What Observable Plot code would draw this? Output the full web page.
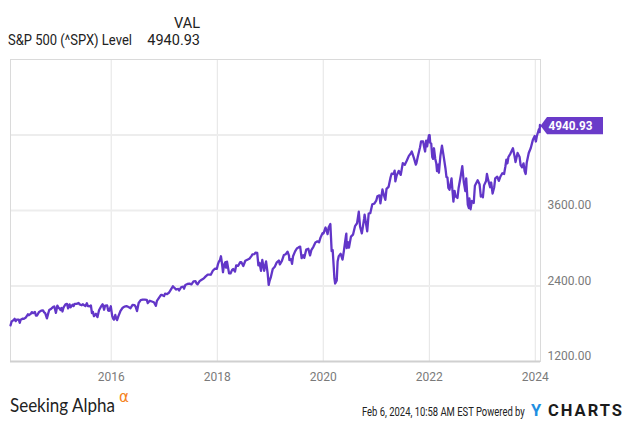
<!DOCTYPE html>
<html><head><meta charset="utf-8">
<script src="https://cdn.jsdelivr.net/npm/d3@7"></script>
<script src="https://cdn.jsdelivr.net/npm/@observablehq/plot@0.6"></script>
<style>body{margin:0;background:#fff;font-family:Roboto,sans-serif}</style>
</head><body><div id="chart"></div>
<script>
// S&P 500 level readings, [month-day, level]
const spx2014 = [["02-06",1773],["02-14",1838],["02-28",1859],["03-07",1878],["03-14",1841],["03-21",1866],["04-04",1865],["04-11",1815],["04-17",1864],["05-02",1881],["05-09",1878],["05-23",1900],["06-06",1950],["06-13",1936],["06-27",1961],["07-03",1985],["07-11",1968],["07-24",1988],["07-31",1931],["08-08",1931],["08-22",1988],["09-05",2007],["09-18",2011],["09-26",1982],["10-03",1968],["10-15",1886],["10-24",1965],["10-31",2018],["11-14",2039],["11-28",2068],["12-05",2075],["12-16",1973],["12-26",2089]];
const spx2015 = [["01-02",2058],["01-09",2044],["01-16",2019],["01-23",2051],["01-30",1995],["02-06",2055],["02-20",2110],["03-02",2117],["03-10",2044],["03-20",2108],["03-27",2061],["04-10",2102],["04-17",2081],["04-24",2117],["05-08",2116],["05-21",2131],["05-29",2107],["06-12",2094],["06-19",2110],["07-07",2081],["07-17",2126],["07-24",2079],["08-07",2078],["08-14",2091],["08-21",1971],["08-28",1988],["09-04",1921],["09-18",1958],["09-28",1905],["10-09",2014],["10-23",2075],["11-03",2109],["11-13",2023],["11-20",2089],["12-04",2091],["12-11",2012],["12-18",2005],["12-29",2078]];
const spx2016 = [["01-08",1922],["01-15",1880],["01-20",1865],["01-29",1940],["02-05",1880],["02-11",1860],["02-19",1918],["03-04",1999],["03-18",2050],["04-01",2073],["04-15",2081],["04-29",2065],["05-13",2047],["05-27",2099],["06-10",2096],["06-17",2071],["06-27",2001],["07-08",2130],["07-22",2175],["08-05",2183],["08-19",2184],["09-02",2180],["09-09",2128],["09-23",2165],["10-07",2153],["10-21",2141],["11-04",2085],["11-11",2164],["11-25",2213],["12-09",2260],["12-16",2258],["12-30",2239]];
const spx2017 = [["01-06",2277],["01-20",2271],["02-03",2297],["02-17",2351],["03-01",2396],["03-10",2373],["03-24",2344],["04-07",2355],["04-13",2329],["04-28",2384],["05-12",2391],["05-17",2357],["05-26",2416],["06-09",2432],["06-23",2438],["07-07",2425],["07-21",2473],["08-04",2477],["08-11",2441],["08-18",2426],["09-01",2477],["09-15",2500],["09-29",2519],["10-13",2553],["10-27",2581],["11-10",2582],["11-17",2579],["12-01",2642],["12-15",2675],["12-29",2674]];
const spx2018 = [["01-05",2743],["01-12",2786],["01-19",2810],["01-26",2873],["02-02",2762],["02-09",2619],["02-16",2732],["02-26",2780],["03-02",2691],["03-09",2786],["03-23",2600],["04-02",2600],["04-13",2656],["04-20",2670],["05-03",2630],["05-11",2727],["05-25",2721],["06-08",2779],["06-15",2780],["06-29",2718],["07-13",2801],["07-27",2818],["08-10",2833],["08-24",2875],["08-31",2902],["09-14",2905],["09-21",2930],["10-03",2925],["10-11",2728],["10-19",2767],["10-29",2641],["11-07",2814],["11-20",2641],["11-30",2760],["12-03",2790],["12-14",2600],["12-21",2417],["12-28",2486]];
const spx2019 = [["01-04",2532],["01-18",2671],["02-01",2707],["02-15",2776],["03-01",2804],["03-08",2743],["03-22",2800],["04-05",2893],["04-18",2905],["04-30",2946],["05-10",2881],["05-13",2812],["05-24",2826],["05-31",2752],["06-07",2874],["06-21",2950],["07-03",2996],["07-15",3014],["07-26",3026],["08-05",2844],["08-16",2889],["08-23",2847],["09-06",2979],["09-20",2992],["10-02",2887],["10-11",2970],["10-25",3023],["11-08",3093],["11-22",3110],["12-03",3093],["12-13",3169],["12-27",3240]];
const spx2020 = [["01-03",3235],["01-17",3330],["01-31",3225],["02-07",3328],["02-19",3386],["02-28",2954],["03-06",2972],["03-13",2711],["03-18",2520],["03-23",2440],["04-03",2489],["04-09",2790],["04-17",2875],["04-30",2912],["05-13",2820],["05-22",2955],["06-05",3194],["06-08",3232],["06-11",3002],["06-19",3098],["06-26",3009],["07-10",3185],["07-24",3216],["08-07",3351],["08-21",3397],["09-02",3580],["09-11",3341],["09-23",3237],["10-09",3477],["10-12",3534],["10-30",3270],["11-09",3550],["11-20",3558],["12-04",3699],["12-18",3709],["12-31",3756]];
const spx2021 = [["01-08",3825],["01-22",3841],["01-29",3714],["02-12",3934],["02-26",3811],["03-04",3768],["03-12",3943],["03-26",3975],["04-09",4129],["04-16",4185],["04-30",4181],["05-07",4233],["05-12",4063],["05-21",4156],["06-04",4230],["06-18",4166],["07-02",4352],["07-16",4327],["07-30",4395],["08-13",4468],["08-27",4509],["09-02",4537],["09-17",4433],["09-30",4330],["10-04",4350],["10-15",4471],["10-29",4605],["11-05",4697],["11-19",4698],["11-30",4567],["12-03",4538],["12-10",4712],["12-17",4621],["12-29",4793]];
const spx2022 = [["01-03",4797],["01-07",4677],["01-14",4663],["01-21",4450],["01-27",4420],["02-02",4589],["02-11",4419],["02-18",4349],["02-23",4225],["03-04",4329],["03-08",4200],["03-18",4463],["03-29",4631],["04-08",4488],["04-22",4272],["04-29",4132],["05-06",4123],["05-12",3960],["05-20",3930],["06-03",4109],["06-10",3901],["06-16",3740],["06-24",3912],["07-01",3825],["07-14",3800],["07-22",3962],["08-05",4145],["08-16",4305],["08-26",4058],["09-06",3909],["09-12",4110],["09-23",3693],["09-30",3640],["10-04",3791],["10-12",3620],["10-21",3752],["11-03",3719],["11-11",3993],["11-30",4080],["12-13",4019],["12-22",3822],["12-30",3840]];
const spx2023 = [["01-05",3808],["01-13",3999],["01-27",4070],["02-02",4180],["02-10",4090],["02-24",3970],["03-03",4045],["03-13",3870],["03-24",3971],["03-31",4109],["04-14",4137],["04-25",4071],["05-05",4136],["05-19",4192],["05-31",4180],["06-09",4299],["06-16",4410],["06-23",4348],["06-30",4450],["07-14",4505],["07-31",4589],["08-11",4464],["08-18",4370],["09-01",4515],["09-15",4450],["09-22",4320],["10-02",4288],["10-12",4349],["10-20",4224],["10-27",4180],["11-03",4358],["11-17",4514],["12-01",4594],["12-15",4719],["12-28",4783]];
const spx2024 = [["01-05",4697],["01-12",4784],["01-19",4840],["01-26",4891],["01-31",4846],["02-02",4959],["02-06",4940.93]];

const seriesByYear = {2014: spx2014, 2015: spx2015, 2016: spx2016, 2017: spx2017, 2018: spx2018, 2019: spx2019, 2020: spx2020, 2021: spx2021, 2022: spx2022, 2023: spx2023, 2024: spx2024};
const xTickYears = [2016, 2018, 2020, 2022, 2024];
const yTickLabels = [1200, 2400, 3600];
const yGridLevels = [2400, 3600, 4800];
const yDomain = [1200, 6000];
const startDate = "2014-02-06";
const endDate = "2024-02-06";
const lastValue = 4940.93;
const seriesName = "S&P 500 (^SPX) Level";
const columnHeader = "VAL";
const stampText = "Feb 6, 2024, 10:58 AM EST Powered by";

const data = Object.entries(seriesByYear).flatMap(([yr, arr]) =>
  arr.map(([md, v]) => ({date: new Date(`${yr}-${md}T00:00:00Z`), value: v})));
const xTicks = xTickYears.map(y => new Date(Date.UTC(y, 0, 1)));

const chart = Plot.plot({
  width: 635, height: 424,
  marginLeft: 10, marginRight: 95, marginTop: 59, marginBottom: 63,
  style: {fontFamily: "Roboto, sans-serif", fontSize: "12px", background: "#fff", overflow: "visible"},
  x: {type: "utc", domain: [new Date(startDate), new Date(endDate)], label: null},
  y: {domain: yDomain, label: null},
  marks: [
    Plot.ruleX(xTicks, {stroke: "#e4e4e4", strokeWidth: 1}),
    Plot.ruleY(yGridLevels, {stroke: "#ededed", strokeWidth: 2}),
    Plot.frame({stroke: "#dadada", strokeWidth: 1}),
    Plot.ruleY([yDomain[0]], {stroke: "#d0d0d0", strokeWidth: 2}),
    Plot.axisX(xTicks, {tickSize: 0, tickPadding: 11, tickFormat: d3.utcFormat("%Y"), fill: "#7a7a7a", fontSize: 12}),
    Plot.axisY(yTickLabels, {anchor: "right", tickSize: 0, tickPadding: 7, dy: -5, tickFormat: d => d.toFixed(2), fill: "#7a7a7a", fontSize: 12}),
    Plot.lineY(data, {x: "date", y: "value", stroke: "#6236c8", strokeWidth: 2.3, strokeLinejoin: "round"})
  ]
});
document.getElementById("chart").append(chart);

const svg = d3.select(chart);
// squeeze a text horizontally so that it spans the given width (keeps real text)
function fitText(sel, x, y, width) {
  sel.attr("x", 0).attr("y", 0).attr("text-anchor", "start");
  const natural = sel.node().getComputedTextLength();
  sel.attr("transform", `translate(${x},${y}) scale(${Math.min(1, width / natural)},1)`);
  return sel;
}

// value badge at last point
const by = chart.scale("y").apply(lastValue);
const bx = chart.scale("x").apply(new Date(endDate));
const h = 8.7;
svg.append("polygon")
  .attr("points", [[bx + 0.5, by], [bx + 7, by - h], [bx + 63, by - h], [bx + 63, by + h], [bx + 7, by + h]].map(p => p.join(",")).join(" "))
  .attr("fill", "#6a3bc9");
fitText(svg.append("text").attr("dy", "0.35em")
  .attr("fill", "#fff").attr("font-weight", "bold").attr("font-size", 12.5)
  .attr("font-family", "Roboto, sans-serif").text(lastValue.toFixed(2)), bx + 8.5, by, 44);

// header
const hdr = svg.append("g").attr("font-family", "Roboto, sans-serif").attr("fill", "#222").attr("font-size", 14.5);
hdr.append("text").attr("x", 200).attr("y", 28).attr("text-anchor", "end").text(columnHeader);
fitText(hdr.append("text").text(seriesName), 8, 45, 124);
hdr.append("text").attr("x", 200).attr("y", 45).attr("text-anchor", "end").text(lastValue.toFixed(2));

// footer
const ftr = svg.append("g");
fitText(ftr.append("text").attr("font-family", "Lato, sans-serif").attr("font-size", 19)
  .attr("fill", "#222").text("Seeking Alpha"), 10, 412, 105);
ftr.append("text").attr("x", 119).attr("y", 402).attr("text-anchor", "start").attr("font-family", "DejaVu Sans, sans-serif").attr("font-size", 15)
  .attr("fill", "#f58220").text("α");
fitText(ftr.append("text").attr("font-family", "Roboto, sans-serif").attr("font-size", 12)
  .attr("fill", "#222").text(stampText), 362, 415.5, 163);
fitText(ftr.append("text").attr("font-family", "Roboto, sans-serif").attr("font-size", 16.5)
  .attr("font-weight", "bold").attr("fill", "#1e8fe1").text("Y"), 531, 416, 14);
fitText(ftr.append("text").attr("font-family", "Roboto, sans-serif").attr("font-size", 16.5)
  .attr("font-weight", "bold").attr("fill", "#1b1b1b").attr("letter-spacing", 2).text("CHARTS"), 548, 416, 79);
</script>
</body></html>
